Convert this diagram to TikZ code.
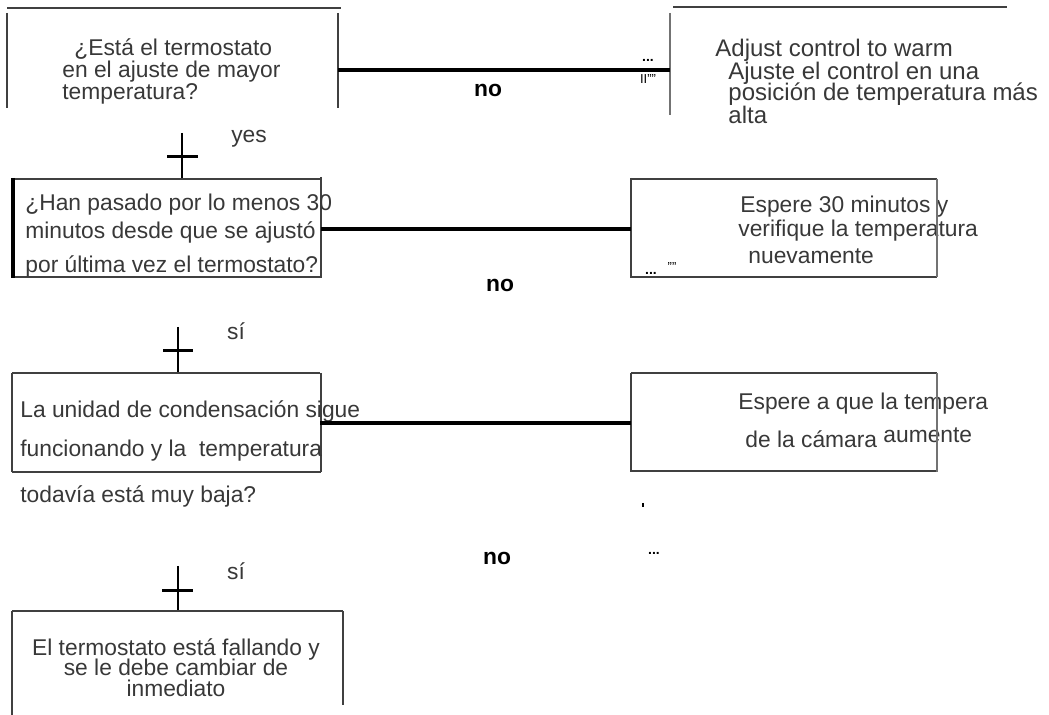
\documentclass[tikz,border=0pt]{standalone}
\usepackage{fontspec}
\setmainfont{Liberation Sans}
\begin{document}
\begin{tikzpicture}[x=0.5pt,y=-0.5pt,
  txt/.style={font=\fontsize{11.4}{13}\selectfont, text=black!78, inner sep=0pt, anchor=base west},
  ctxt/.style={txt, anchor=base},
  bigtxt/.style={txt, font=\fontsize{12}{14}\selectfont},
  lbl/.style={font=\fontsize{11.4}{13}\selectfont\bfseries, text=black, inner sep=0pt, anchor=base},
  tiny/.style={font=\fontsize{7}{8}\selectfont\bfseries, text=black, inner sep=0pt, anchor=base},
  frame/.style={draw=black!75, line width=0.6pt},
  heavyside/.style={draw=black, line width=2pt},
  grayedge/.style={draw=black!55, line width=1.4pt},
  link/.style={draw=black, line width=2.4pt},
  crossbar/.style={draw=black, line width=1.5pt},
  stem/.style={draw=black, line width=1.3pt}
]
\useasboundingbox (0,0) rectangle (1049,715);

% ---------- corner points of the open boxes ----------
\coordinate (q1tl) at (7,8);    \coordinate (q1tr) at (341,8);
\coordinate (q1l1) at (7,13);   \coordinate (q1l2) at (7,108);
\coordinate (q1r1) at (338,13); \coordinate (q1r2) at (338,108);
\coordinate (q1out) at (338,70);

\coordinate (a1in) at (670,70);
\coordinate (a1l1) at (670,13); \coordinate (a1l2) at (670,115);
\coordinate (a1tl) at (673,7);  \coordinate (a1tr) at (1007,7);

\coordinate (q2tl) at (12,179);  \coordinate (q2tr) at (321,179);
\coordinate (q2bl) at (12,277);  \coordinate (q2br) at (321,277);
\coordinate (q2L1) at (13,178);  \coordinate (q2L2) at (13,278);
\coordinate (q2R1) at (321,177); \coordinate (q2R2) at (321,278);
\coordinate (q2out) at (321,229);
\coordinate (q2in) at (182,179);

\coordinate (a2tl) at (631,179); \coordinate (a2tr) at (937,179);
\coordinate (a2bl) at (631,277); \coordinate (a2br) at (937,277);
\coordinate (a2L1) at (631,178); \coordinate (a2L2) at (631,278);
\coordinate (a2in) at (631,229);

\coordinate (q3tl) at (12,373);  \coordinate (q3tr) at (320,373);
\coordinate (q3bl) at (12,472);  \coordinate (q3br) at (321,472);
\coordinate (q3R1) at (321,373);
\coordinate (q3out) at (320,423);
\coordinate (q3in) at (178,373);

\coordinate (a3tl) at (631,373); \coordinate (a3tr) at (937,373);
\coordinate (a3bl) at (631,471); \coordinate (a3br) at (937,471);
\coordinate (a3L2) at (631,472); \coordinate (a3R2) at (937,472);
\coordinate (a3in) at (631,423);

\coordinate (q4tl) at (12,611);  \coordinate (q4tr) at (343,611);
\coordinate (q4bl) at (12,715);  \coordinate (q4br) at (343,705);
\coordinate (q4in) at (178,611);

% ---------- first question ----------
\draw[frame] (q1tl) -- (q1tr);
\draw[frame] (q1l1) -- (q1l2);
\draw[frame] (q1r1) -- (q1r2);
\node[txt] (q1a) at (74,56) {¿Está el termostato};
\node[txt] (q1b) at (62,78) {en el ajuste de mayor};
\node[txt] (q1c) at (62,100) {temperatura?};

% ---------- first action ----------
\draw[grayedge, line width=1pt] (a1l1) -- (a1l2);
\draw[frame] (a1tl) -- (a1tr);
\begin{scope}
  \clip (700,20) rectangle (952,70);
  \node[bigtxt] (a1a) at (715,57) {Adjust control to warme};
\end{scope}
\node[bigtxt] (a1b) at (728,80) {Ajuste el control en una};
\node[bigtxt] (a1c) at (728,101) {posición de temperatura más};
\node[bigtxt] (a1d) at (728,124) {alta};

\draw[link, line width=2pt] (q1out) -- (a1in);
\node[tiny] (m1a) at (648,62) {...};
\node[tiny, font=\fontsize{6.5}{7}\selectfont] (m1b) at (648,84) {II""};
\node[lbl] (no1) at (488,97) {no};

% ---------- yes branch 1 ----------
\coordinate (c1top) at (182,133);
\draw[stem] (c1top) -- (q2in);
\draw[crossbar] (167,157) -- (198,157);
\node[txt, anchor=base] (yes) at (249,143) {yes};

% ---------- second question ----------
\draw[frame] (q2tl) -- (q2tr);
\draw[frame] (q2bl) -- (q2br);
\draw[heavyside] (q2L1) -- (q2L2);
\draw[frame] (q2R1) -- (q2R2);
\node[txt] (q2a) at (25,211) {¿Han pasado por lo menos 30};
\node[txt] (q2b) at (25,239) {minutos desde que se ajustó};
\node[txt] (q2c) at (25,273) {por última vez el termostato?};

% ---------- second action ----------
\node[txt] (a2a) at (740,213) {Espere 30 minutos y};
\node[txt] (a2b) at (738,237) {verifique la temperatura};
\node[txt] (a2c) at (748,264) {nuevamente};
\draw[frame] (a2tl) -- (a2tr);
\draw[frame] (a2bl) -- (a2br);
\draw[frame, line width=0.8pt] (a2L1) -- (a2L2);
\draw[grayedge] (a2tr) -- (a2br);
\draw[link] (q2out) -- (a2in);
\node[tiny] (m2a) at (651,275) {...};
\node[tiny, font=\fontsize{6.5}{7}\selectfont] (m2b) at (672,272) {""};
\node[lbl] (no2) at (500,292) {no};

% ---------- yes branch 2 ----------
\coordinate (c2top) at (178,327);
\draw[stem] (c2top) -- (q3in);
\draw[crossbar] (163,351) -- (193,351);
\node[txt, anchor=base] (si1) at (236,340) {sí};

% ---------- third question ----------
\draw[frame] (q3tl) -- (q3tr);
\draw[frame] (q3bl) -- (q3br);
\draw[frame] (q3tl) -- (q3bl);
\draw[frame] (q3R1) -- (q3br);
\node[txt] (q3a) at (20,418) {La unidad de condensación sigue};
\node[txt] (q3b) at (20,457) {funcionando y la\ \ temperatura};
\node[txt] (q3c) at (20,503) {todavía está muy baja?};

% ---------- third action ----------
\node[txt] (a3a) at (738,410) {Espere a que la tempera};
\node[txt] (a3b) at (745,448) {de la cámara};
\node[txt] (a3c) at (883,443) {aumente};
\draw[frame] (a3tl) -- (a3tr);
\draw[frame] (a3bl) -- (a3br);
\draw[frame, line width=0.8pt] (a3tl) -- (a3L2);
\draw[grayedge] (a3tr) -- (a3R2);
\draw[link] (q3out) -- (a3in);
\draw[draw=black, line width=1pt] (643,503) -- (643,507);
\node[tiny] (m3) at (654,554) {...};
\node[lbl] (no3) at (497,565) {no};

% ---------- yes branch 3 ----------
\coordinate (c3top) at (178,566);
\draw[stem] (c3top) -- (q4in);
\draw[crossbar] (162,590) -- (193,590);
\node[txt, anchor=base] (si2) at (236,580) {sí};

% ---------- final box ----------
\draw[frame] (q4tl) -- (q4tr);
\draw[frame] (q4tl) -- (q4bl);
\draw[frame] (q4tr) -- (q4br);
\node[ctxt] (q4a) at (176,655) {El termostato está fallando y};
\node[ctxt] (q4b) at (176,675) {se le debe cambiar de};
\node[ctxt] (q4c) at (176,696) {inmediato};

\end{tikzpicture}
\end{document}
